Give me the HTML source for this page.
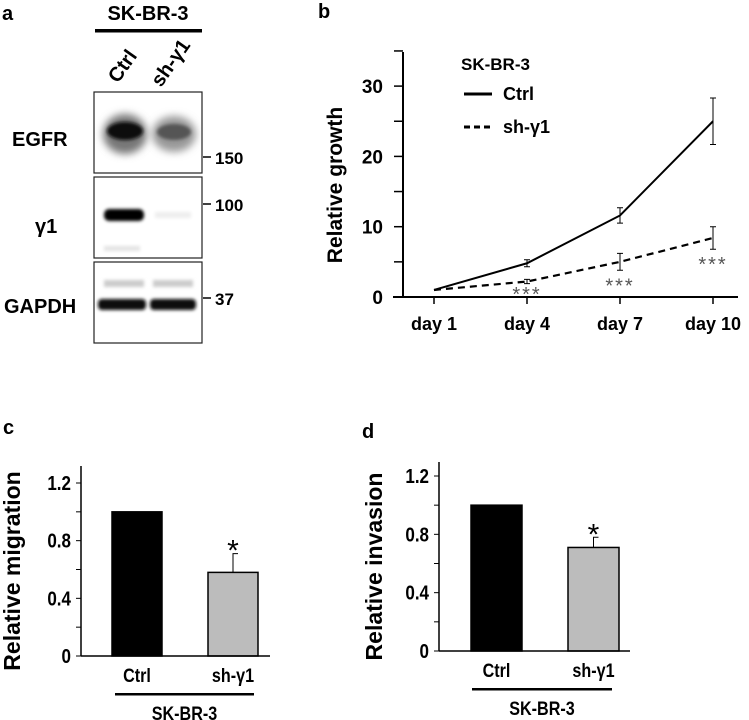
<!DOCTYPE html>
<html><head><meta charset="utf-8"><style>
body{margin:0;background:#fff;}
svg{display:block;font-family:"Liberation Sans",Arial,sans-serif;}
.b{font-weight:bold;}
</style></head><body>
<svg width="749" height="720" viewBox="0 0 749 720">
<defs>
<filter id="bl" x="-30%" y="-50%" width="160%" height="200%"><feGaussianBlur stdDeviation="4"/></filter>
<filter id="bl2" x="-30%" y="-50%" width="160%" height="200%"><feGaussianBlur stdDeviation="1.5"/></filter>
</defs>
<g>
<text x="2" y="20" class="b" font-size="20">a</text>
<text x="148" y="20" class="b" font-size="20" text-anchor="middle">SK-BR-3</text>
<rect x="95" y="29" width="107" height="3.5" fill="#000"/>
<text transform="translate(118,84) rotate(-55)" class="b" font-size="20">Ctrl</text>
<text transform="translate(161,88) rotate(-55)" class="b" font-size="20">sh-γ1</text>
<g>
<rect x="94" y="92" width="108" height="81" fill="#fff" stroke="#222" stroke-width="1.2"/>
<ellipse cx="125" cy="134" rx="22" ry="20" fill="#777" filter="url(#bl)"/>
<ellipse cx="125" cy="131" rx="18" ry="9" fill="#111" filter="url(#bl2)"/>
<ellipse cx="174" cy="134" rx="22" ry="18" fill="#999" filter="url(#bl)"/>
<ellipse cx="174" cy="132" rx="17" ry="8" fill="#555" filter="url(#bl2)"/>
</g>
<g>
<rect x="94" y="177" width="108" height="81" fill="#fff" stroke="#222" stroke-width="1.2"/>
<rect x="104" y="209" width="40" height="12" rx="5" fill="#000" filter="url(#bl2)"/>
<rect x="155" y="212" width="36" height="6" fill="#eee" filter="url(#bl2)"/>
<rect x="104" y="246" width="36" height="5" fill="#e4e4e4" filter="url(#bl2)"/>
</g>
<g>
<rect x="94" y="262" width="108" height="81" fill="#fff" stroke="#222" stroke-width="1.2"/>
<rect x="104" y="280" width="40" height="7" fill="#ccc" filter="url(#bl2)"/>
<rect x="153" y="280" width="40" height="7" fill="#ccc" filter="url(#bl2)"/>
<rect x="98" y="299" width="48" height="11" rx="4" fill="#111" filter="url(#bl2)"/>
<rect x="150" y="299" width="46" height="11" rx="4" fill="#111" filter="url(#bl2)"/>
</g>
<text x="12" y="146" class="b" font-size="20">EGFR</text>
<text x="35" y="233" class="b" font-size="20">γ1</text>
<text x="4" y="313" class="b" font-size="20">GAPDH</text>
<g stroke="#000" stroke-width="1.5"><line x1="203" y1="157" x2="211" y2="157"/><line x1="203" y1="204" x2="211" y2="204"/><line x1="203" y1="298" x2="211" y2="298"/></g>
<text x="215" y="164" class="b" font-size="17">150</text>
<text x="215" y="211" class="b" font-size="17">100</text>
<text x="215" y="305" class="b" font-size="17">37</text>
</g>
<text x="318" y="18" class="b" font-size="20">b</text>
<g id="pb"></g>
<text x="3" y="434" class="b" font-size="20">c</text>
<g id="pc"></g>
<text x="362" y="438" class="b" font-size="20">d</text>
<g id="pd"></g>
</svg>
<script>
const NS="http://www.w3.org/2000/svg";
function mk(p,t,a,txt){const e=document.createElementNS(NS,t);for(const k in a)e.setAttribute(k,a[k]);if(txt!==undefined)e.textContent=txt;p.appendChild(e);return e;}
// Panel b data
const days=["day 1","day 4","day 7","day 10"];
const ctrlVals=[1,4.8,11.6,25];
const ctrlErr=[0,0.5,1.1,3.3];
const shVals=[1,2.2,5,8.4];
const shErr=[0,0.3,1.2,1.6];
const bTicks=[0,10,20,30];
// Panel c/d data
const barCats=["Ctrl","sh-γ1"];
const migVals=[1,0.58];
const migErr=[0,0.13];
const invVals=[1,0.71];
const invErr=[0,0.07];
const barTicks=["0","0.4","0.8","1.2"];

(function(){
 const g=document.getElementById('pb');
 const x0=403,y0=297,yTop=52;
 const y=v=>y0-v*7.03;
 const x=i=>434+i*93;
 mk(g,'line',{x1:x0,y1:yTop,x2:x0,y2:y0,stroke:'#000','stroke-width':2});
 mk(g,'line',{x1:393,y1:y0,x2:738,y2:y0,stroke:'#000','stroke-width':2});
 for(let v=0;v<=35;v+=5){const t=mk(g,'line',{x1:394,y1:y(v),x2:x0,y2:y(v),stroke:'#000','stroke-width':1.5});
 
 }
 bTicks.forEach(v=>{const t=mk(g,'text',{x:383,y:y(v)+7,'text-anchor':'end','font-size':19,'font-weight':'bold'},String(v));
 
 });
 days.forEach((d,i)=>{mk(g,'line',{x1:x(i),y1:y0,x2:x(i),y2:y0+7,stroke:'#000','stroke-width':1.5});
 const t=mk(g,'text',{x:x(i),y:330,'text-anchor':'middle','font-size':18,'font-weight':'bold'},d);
 
 });
 const yt=mk(g,'text',{transform:'translate(342,185) rotate(-90)','text-anchor':'middle','font-size':21,'font-weight':'bold'},'Relative growth');
 
 
 const cl=mk(g,'polyline',{points:ctrlVals.map((v,i)=>x(i)+','+y(v)).join(' '),fill:'none',stroke:'#000','stroke-width':2});
 
 
 const sl=mk(g,'polyline',{points:shVals.map((v,i)=>x(i)+','+y(v)).join(' '),fill:'none',stroke:'#000','stroke-width':2.2,'stroke-dasharray':'7,5'});
 
 
 [[ctrlVals,ctrlErr],[shVals,shErr]].forEach(([vs,es])=>vs.forEach((v,i)=>{if(!es[i])return;
  const e=mk(g,'path',{d:`M${x(i)} ${y(v+es[i])}V${y(v-es[i])}M${x(i)-3} ${y(v+es[i])}h6M${x(i)-3} ${y(v-es[i])}h6`,stroke:'#000','stroke-width':1,fill:'none'});
  
  }));
 shVals.forEach((v,i)=>{if(i===0)return;const yy=Math.min(y(v-shErr[i])+22,y0+4);
  const t=mk(g,'text',{x:x(i),y:yy,'text-anchor':'middle','font-size':20,fill:'#555','letter-spacing':'2'},'***');
  
  });
 const lg=mk(g,'g',{});
 
 
 mk(lg,'text',{x:461,y:70,'font-size':17,'font-weight':'bold'},'SK-BR-3');
 mk(lg,'line',{x1:464,y1:94,x2:492,y2:94,stroke:'#000','stroke-width':3});
 mk(lg,'text',{x:503,y:100,'font-size':18,'font-weight':'bold'},'Ctrl');
 mk(lg,'line',{x1:464,y1:127,x2:492,y2:127,stroke:'#000','stroke-width':3,'stroke-dasharray':'6,4'});
 mk(lg,'text',{x:503,y:133,'font-size':18,'font-weight':'bold'},'sh-γ1');
})();

function barChart(id,ax,y0,pxPer12,yTop,xEnd,bx,bw,vals,errs,title,titleX,ulX1,ulX2){
 const g=document.getElementById(id);
 const y=v=>y0-v*pxPer12/1.2;
 mk(g,'line',{x1:ax,y1:yTop,x2:ax,y2:y0,stroke:'#000','stroke-width':1.5});
 for(let k=0;k<=6;k++){mk(g,'line',{x1:ax-5,y1:y(k*0.2),x2:ax,y2:y(k*0.2),stroke:'#000','stroke-width':1});}
 barTicks.forEach(s=>{const t=mk(g,'text',{x:ax-10,y:y(parseFloat(s))+7,'text-anchor':'end','font-size':20,'font-weight':'bold',transform:`translate(${(ax-10)*0.15},0) scale(0.85,1)`},s);
  
  });
 vals.forEach((v,i)=>{
  if(errs[i]){const e=mk(g,'path',{d:`M${bx[i]+bw/2} ${y(v)}V${y(v+errs[i])}h5`,stroke:'#000','stroke-width':1,fill:'none'});
   
   
   const s=mk(g,'text',{x:bx[i]+bw/2,y:y(v+errs[i])+7,'text-anchor':'middle','font-size':30},'*');
   
   }
  const r=mk(g,'rect',{x:bx[i],y:y(v),width:bw,height:y0-y(v),fill:i?'#bcbcbc':'#000',stroke:'#000','stroke-width':1.5});
  
  
  const cx=bx[i]+bw/2;
  const t=mk(g,'text',{x:cx,y:y0+26,'text-anchor':'middle','font-size':19,'font-weight':'bold',transform:`translate(${cx*0.15},0) scale(0.85,1)`},barCats[i]);
  
  
 });
 mk(g,'line',{x1:ax,y1:y0,x2:xEnd,y2:y0,stroke:'#000','stroke-width':1.5});
 mk(g,'rect',{x:ulX1,y:y0+37,width:ulX2-ulX1,height:2.5,fill:'#000'});
 const gx=(ulX1+ulX2)/2;
 const gt=mk(g,'text',{x:gx,y:y0+64,'text-anchor':'middle','font-size':19,'font-weight':'bold',transform:`translate(${gx*0.15},0) scale(0.85,1)`},'SK-BR-3');
 
 
 const yt=mk(g,'text',{transform:`translate(${titleX},${(yTop+y0)/2+10}) rotate(-90)`,'text-anchor':'middle','font-size':23,'font-weight':'bold'},title);
 
 
}
barChart('pc',81,656,173,466,270,[112,208],50,migVals,migErr,'Relative migration',20,115,254);
barChart('pd',439,651,175,462,630,[471,568],51,invVals,invErr,'Relative invasion',382,472,612);
</script>
</body></html>
